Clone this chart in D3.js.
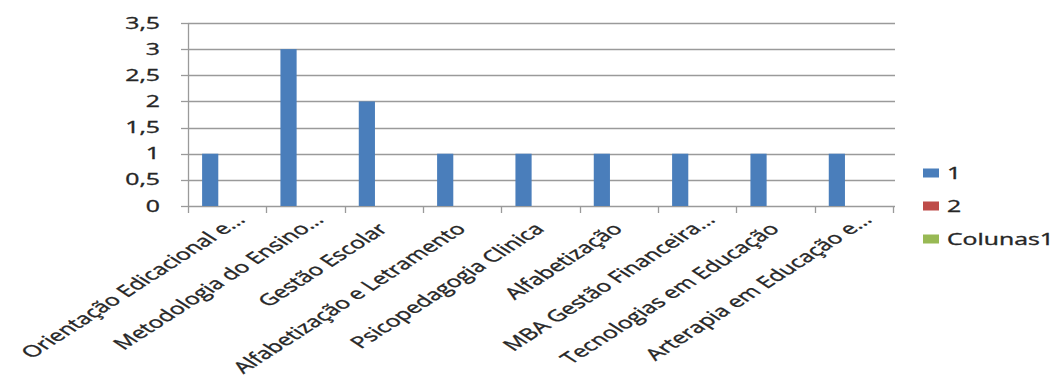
<!DOCTYPE html>
<html><head><meta charset="utf-8">
<script src="https://cdn.jsdelivr.net/npm/d3@7"></script>
<style>html,body{margin:0;padding:0;background:#fff;}svg{display:block;}</style>
</head><body>
<svg id="chart" width="1060" height="391"></svg>
<script>
const categories = ["Orientação Edicacional e...", "Metodologia do Ensino...", "Gestão Escolar", "Alfabetização e Letramento", "Psicopedagogia Clinica", "Alfabetização", "MBA Gestão Financeira...", "Tecnologias em Educação", "Arterapia em Educação e..."];
const seriesNames = ["1", "2", "Colunas1"];
const series1 = [1, 3, 2, 1, 1, 1, 1, 1, 1];
const series2 = [0, 0, 0, 0, 0, 0, 0, 0, 0];
const colunas1 = [0, 0, 0, 0, 0, 0, 0, 0, 0];
const yTicks = [0, 0.5, 1, 1.5, 2, 2.5, 3, 3.5];
const colors = ["#4a7ebb", "#be4b48", "#98b954"];

const allSeries = [series1, series2, colunas1];
const svg = d3.select("#chart");
const FONT = "'Open Sans', 'Liberation Sans', sans-serif";
const SX = 1.55; // horizontal stretch of text, as in the reference
const textColor = "#262626";

const x0 = d3.scaleBand().domain(categories).range([188, 893]).paddingInner(0).paddingOuter(0);
const y = d3.scaleLinear().domain([0, 3.5]).range([206, 23]);
const x1 = d3.scaleBand().domain(seriesNames).range([x0.bandwidth() * 0.18, x0.bandwidth() * 0.80]);

const fmt = v => String(v).replace(".", ",");
const styleText = sel => sel.attr("font-family", FONT).attr("font-size", 16)
  .attr("fill", textColor).attr("stroke", textColor).attr("stroke-width", 0.35);

// gridlines
svg.append("g").selectAll("line").data(yTicks.filter(t => t > 0)).join("line")
  .attr("x1", 188).attr("x2", 895)
  .attr("y1", d => Math.round(y(d)) + 0.5).attr("y2", d => Math.round(y(d)) + 0.5)
  .attr("stroke", "#9a9a9a").attr("stroke-width", 1.3);

// y axis line + ticks
svg.append("line").attr("x1", 188.5).attr("x2", 188.5).attr("y1", y(3.5)).attr("y2", y(0))
  .attr("stroke", "#9a9a9a").attr("stroke-width", 1.3);
svg.append("g").selectAll("line").data(yTicks).join("line")
  .attr("x1", 181).attr("x2", 188)
  .attr("y1", d => Math.round(y(d)) + 0.5).attr("y2", d => Math.round(y(d)) + 0.5)
  .attr("stroke", "#9a9a9a").attr("stroke-width", 1.3);

// y labels
svg.append("g").selectAll("text").data(yTicks).join("text")
  .attr("transform", d => `translate(160,${y(d)}) scale(${SX},1)`)
  .attr("dy", "0.35em").attr("text-anchor", "end")
  .call(styleText)
  .text(fmt);

// x axis line + ticks
svg.append("line").attr("x1", 188).attr("x2", 895).attr("y1", Math.round(y(0)) + 0.5).attr("y2", Math.round(y(0)) + 0.5)
  .attr("stroke", "#9a9a9a").attr("stroke-width", 1.3);
const tickXs = categories.map(c => x0(c)).concat([x0.range()[1]]);
svg.append("g").selectAll("line").data(tickXs).join("line")
  .attr("x1", d => Math.round(d) + 0.5).attr("x2", d => Math.round(d) + 0.5)
  .attr("y1", y(0)).attr("y2", y(0) + 7)
  .attr("stroke", "#9a9a9a").attr("stroke-width", 1.3);

// bars
allSeries.forEach((vals, si) => {
  svg.append("g").selectAll("rect").data(vals.map((v, i) => ({ c: categories[i], v }))).join("rect")
    .attr("x", d => x0(d.c) + x1(seriesNames[si]))
    .attr("width", x1.bandwidth())
    .attr("y", d => y(d.v))
    .attr("height", d => y(0) - y(d.v))
    .attr("fill", colors[si]);
});

// x labels
svg.append("g").selectAll("text").data(categories).join("text")
  .attr("transform", d => `translate(${x0(d) + x0.bandwidth() / 2 + 5},230) scale(${SX},1) rotate(-45)`)
  .attr("dx", d => d.endsWith("...") ? 13 : 0)
  .attr("text-anchor", "end")
  .call(styleText)
  .text(d => d);

// legend
const leg = svg.append("g").selectAll("g").data(seriesNames).join("g")
  .attr("transform", (d, i) => `translate(923,${173 + i * 33})`);
leg.append("rect").attr("x", 0).attr("y", -4.5).attr("width", 16).attr("height", 9)
  .attr("fill", (d, i) => colors[i]);
leg.append("text").attr("transform", `translate(24,0) scale(${SX},1)`)
  .attr("dy", "0.36em")
  .call(styleText)
  .text(d => d);
</script>
</body></html>
